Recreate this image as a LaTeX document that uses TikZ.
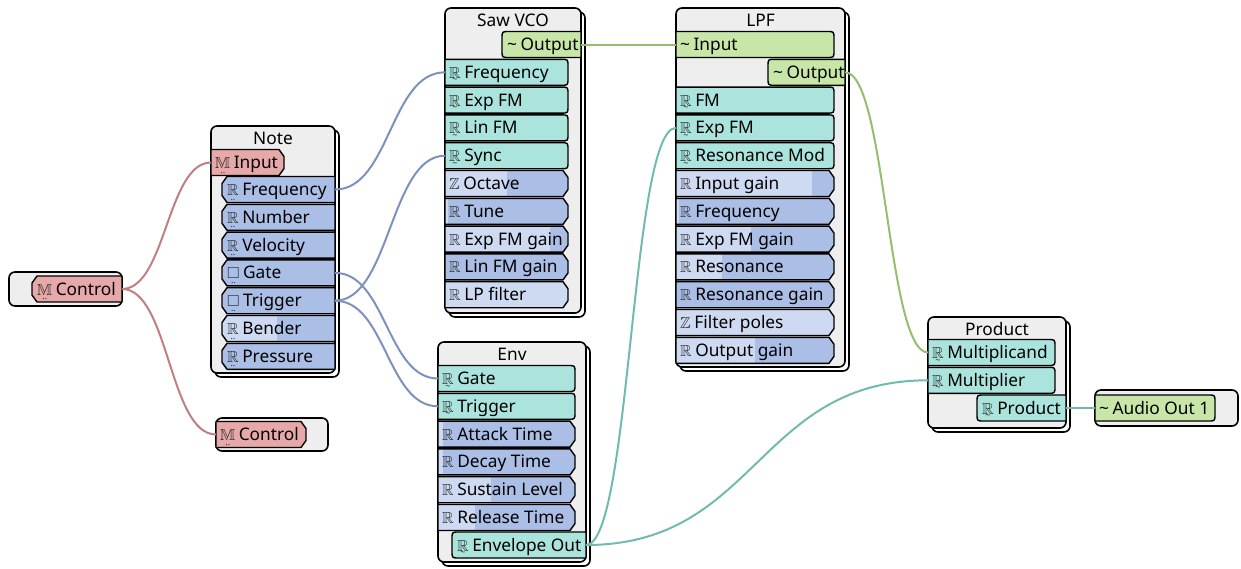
\documentclass[tikz,border=0pt]{standalone}
\usepackage{amssymb}
\usepackage{fontspec}
\setmainfont{Noto Sans}
\definecolor{cBg}{RGB}{238,238,238}
\definecolor{cTeal}{RGB}{170,228,221}
\definecolor{cGreen}{RGB}{200,230,168}
\definecolor{cBlueD}{RGB}{170,190,230}
\definecolor{cBlueL}{RGB}{206,218,242}
\definecolor{cRed}{RGB}{230,168,168}
\definecolor{cSym}{RGB}{40,40,40}
\definecolor{wRed}{RGB}{190,128,128}
\definecolor{wBlue}{RGB}{125,145,190}
\definecolor{wGreen}{RGB}{150,190,112}
\definecolor{wTeal}{RGB}{112,186,176}
% row shapes: xl, xr, yc
\def\rin#1#2#3{(#1,#3-13) -- (#2-7,#3-13) .. controls (#2,#3-13) .. (#2,#3-6) -- (#2,#3+6) .. controls (#2,#3+13) .. (#2-7,#3+13) -- (#1,#3+13) -- cycle}
\def\cin#1#2#3{(#1,#3-13) -- (#2-5,#3-13) -- (#2,#3-6) -- (#2,#3+6) -- (#2-5,#3+13) -- (#1,#3+13) -- cycle}
\def\rout#1#2#3{(#2,#3-13) -- (#1+7,#3-13) .. controls (#1,#3-13) .. (#1,#3-6) -- (#1,#3+6) .. controls (#1,#3+13) .. (#1+7,#3+13) -- (#2,#3+13) -- cycle}
\def\cout#1#2#3{(#2,#3-13) -- (#1+5,#3-13) -- (#1,#3-6) -- (#1,#3+6) -- (#1+5,#3+13) -- (#2,#3+13) -- cycle}
\newcommand\sy[2]{\textcolor{cSym}{\ooalign{\fontsize{16}{16}\selectfont$#1$\cr\hidewidth\raisebox{-4.5pt}{\fontsize{9}{9}\selectfont #2}\hidewidth\cr}}}
\newcommand\tl{\sy{\mathbb{R}}{\textasciitilde}\hspace{3.5pt}}
\newcommand\dr{\sy{\mathbb{R}}{..}\hspace{3.5pt}}
\newcommand\pr{\sy{\mathbb{R}}{}\hspace{3.5pt}}
\newcommand\pz{\sy{\mathbb{Z}}{}\hspace{3.5pt}}
\newcommand\dm{\sy{\mathbb{M}}{..}\hspace{3.5pt}}
\newcommand\ds{\sy{\square}{..}\hspace{3.5pt}}
\newcommand\gt{\textasciitilde\hspace{3.5pt}}
% rows: name, shape, xl, xr, yc, fill, split, text
\newcommand\inrow[8]{%
  \begin{scope}
    \clip #2{#3}{#4}{#5};
    \fill[#6] (#3,#5-14) rectangle (#4,#5+14);
    \fill[cBlueL] (#3,#5-14) rectangle (#7,#5+14);
  \end{scope}
  \draw[rowline] #2{#3}{#4}{#5};
  \node[lbl] (#1) at (#3+4,#5+6) {#8};
  \coordinate (#1p) at (#3,#5);
}
\newcommand\outrow[8]{%
  \begin{scope}
    \clip #2{#3}{#4}{#5};
    \fill[#6] (#3,#5-14) rectangle (#4,#5+14);
    \fill[cBlueL] (#3,#5-14) rectangle (#7,#5+14);
  \end{scope}
  \draw[rowline] #2{#3}{#4}{#5};
  \node[lbl] (#1) at (#3+5,#5+6) {#8};
  \coordinate (#1p) at (#4,#5);
}
% module: name, xl, yt, xr, yb, title
\newcommand\module[6]{%
  \draw[shadowbox] (#2+4,#3+4) rectangle (#4+4,#5+4);
  \draw[modbox] (#2,#3) rectangle (#4,#5);
  \node[ttl] (#1) at ({(#2+#4)/2},#3+18) {#6};
}
\begin{document}
\begin{tikzpicture}[x=1pt,y=-1pt,
  modbox/.style={draw=black, fill=cBg, line width=1.6pt, rounded corners=6pt},
  shadowbox/.style={draw=black, fill=white, line width=1.6pt, rounded corners=6pt},
  rowline/.style={draw=black, line width=1.4pt, line join=round},
  lbl/.style={anchor=base west, inner sep=0pt, font=\fontsize{17.3}{20}\selectfont},
  ttl/.style={anchor=base, inner sep=0pt, font=\fontsize{17.3}{20}\selectfont},
  wire/.style={line width=2pt}]
\useasboundingbox (0,0) rectangle (1241,568);

% Control (left)
\draw[modbox] (9,272) rectangle (122,306);
\outrow{ctlL}{\cout}{32}{122}{289}{cRed}{32}{\dm Control}

% Control (bottom)
\draw[modbox] (216,418) rectangle (328,451);
\inrow{ctlB}{\cin}{216}{306}{434.5}{cRed}{216}{\dm Control}

% Note
\module{note}{211}{126}{335}{373}{Note}
\inrow{noteIn}{\cin}{211}{284}{162.5}{cRed}{211}{\dm Input}
\outrow{noteFreq}{\cout}{222}{335}{189.5}{cBlueD}{222}{\dr Frequency}
\outrow{noteNum}{\cout}{222}{335}{217.3}{cBlueD}{222}{\dr Number}
\outrow{noteVel}{\cout}{222}{335}{245.1}{cBlueD}{222}{\dr Velocity}
\outrow{noteGate}{\cout}{222}{335}{272.9}{cBlueD}{222}{\ds Gate}
\outrow{noteTrig}{\cout}{222}{335}{300.7}{cBlueD}{222}{\ds Trigger}
\outrow{noteBend}{\cout}{222}{335}{328.5}{cBlueD}{277}{\dr Bender}
\outrow{notePres}{\cout}{222}{335}{356.3}{cBlueD}{222}{\dr Pressure}

% Saw VCO
\module{vco}{445}{8}{581}{313}{Saw VCO}
\outrow{vcoOut}{\rout}{502}{581}{44.5}{cGreen}{502}{\gt Output}
\inrow{vcoFreq}{\rin}{445}{568}{72.3}{cTeal}{445}{\tl Frequency}
\inrow{vcoExp}{\rin}{445}{568}{100.1}{cTeal}{445}{\tl Exp FM}
\inrow{vcoLin}{\rin}{445}{568}{127.9}{cTeal}{445}{\tl Lin FM}
\inrow{vcoSync}{\rin}{445}{568}{155.7}{cTeal}{445}{\tl Sync}
\inrow{vcoOct}{\cin}{445}{568}{183.5}{cBlueD}{507}{\pz Octave}
\inrow{vcoTune}{\cin}{445}{568}{211.3}{cBlueD}{448}{\pr Tune}
\inrow{vcoExpG}{\cin}{445}{568}{239.1}{cBlueD}{550}{\pr Exp FM gain}
\inrow{vcoLinG}{\cin}{445}{568}{266.9}{cBlueD}{445}{\pr Lin FM gain}
\inrow{vcoLP}{\cin}{445}{568}{294.7}{cBlueD}{568}{\pr LP filter}

% Env
\module{env}{438}{342}{586}{562}{Env}
\inrow{envGate}{\rin}{438}{575}{378.5}{cTeal}{438}{\tl Gate}
\inrow{envTrig}{\rin}{438}{575}{406.3}{cTeal}{438}{\tl Trigger}
\inrow{envAtt}{\cin}{438}{575}{434.1}{cBlueD}{443}{\pr Attack Time}
\inrow{envDec}{\cin}{438}{575}{461.9}{cBlueD}{443}{\pr Decay Time}
\inrow{envSus}{\cin}{438}{575}{489.7}{cBlueD}{491}{\pr Sustain Level}
\inrow{envRel}{\cin}{438}{575}{517.5}{cBlueD}{475}{\pr Release Time}
\outrow{envOut}{\rout}{452}{586}{545}{cTeal}{452}{\tl Envelope Out}

% LPF
\module{lpf}{676}{8}{845}{367}{LPF}
\inrow{lpfIn}{\rin}{676}{834}{44.5}{cGreen}{676}{\gt Input}
\outrow{lpfOut}{\rout}{768}{845}{72.3}{cGreen}{768}{\gt Output}
\inrow{lpfFM}{\rin}{676}{834}{100.1}{cTeal}{676}{\tl FM}
\inrow{lpfExp}{\rin}{676}{834}{127.9}{cTeal}{676}{\tl Exp FM}
\inrow{lpfResM}{\rin}{676}{834}{155.7}{cTeal}{676}{\tl Resonance Mod}
\inrow{lpfInG}{\cin}{676}{834}{183.5}{cBlueD}{812}{\pr Input gain}
\inrow{lpfFreq}{\cin}{676}{834}{211.3}{cBlueD}{679}{\pr Frequency}
\inrow{lpfExpG}{\cin}{676}{834}{239.1}{cBlueD}{751}{\pr Exp FM gain}
\inrow{lpfRes}{\cin}{676}{834}{266.9}{cBlueD}{722}{\pr Resonance}
\inrow{lpfResG}{\cin}{676}{834}{294.7}{cBlueD}{676}{\pr Resonance gain}
\inrow{lpfPoles}{\cin}{676}{834}{322.5}{cBlueD}{834}{\pz Filter poles}
\inrow{lpfOutG}{\cin}{676}{834}{350.3}{cBlueD}{755}{\pr Output gain}

% Product
\module{prod}{928}{317}{1066}{428}{Product}
\inrow{prodA}{\rin}{928}{1055}{352.5}{cTeal}{928}{\tl Multiplicand}
\inrow{prodB}{\rin}{928}{1055}{380.3}{cTeal}{928}{\tl Multiplier}
\outrow{prodOut}{\rout}{977}{1066}{408}{cTeal}{977}{\tl Product}

% Audio Out 1
\draw[modbox] (1095,390) rectangle (1238,426);
\inrow{audio}{\rin}{1095}{1215}{408}{cGreen}{1095}{\gt Audio Out 1}

% wires
\draw[wire, wRed] (ctlLp) .. controls +(44,0) and +(-44,0) .. (noteInp);
\draw[wire, wRed] (ctlLp) .. controls +(47,0) and +(-47,0) .. (ctlBp);
\draw[wire, wBlue] (noteFreqp) .. controls +(55,0) and +(-55,0) .. (vcoFreqp);
\draw[wire, wBlue] (noteTrigp) .. controls +(55,0) and +(-55,0) .. (vcoSyncp);
\draw[wire, wBlue] (noteGatep) .. controls +(51,0) and +(-51,0) .. (envGatep);
\draw[wire, wBlue] (noteTrigp) .. controls +(51,0) and +(-51,0) .. (envTrigp);
\draw[wire, wGreen] (vcoOutp) -- (lpfInp);
\draw[wire, wGreen] (lpfOutp) .. controls +(41,0) and +(-41,0) .. (prodAp);
\draw[wire, wTeal] (envOutp) .. controls +(45,0) and +(-45,0) .. (lpfExpp);
\draw[wire, wTeal] (envOutp) .. controls +(171,0) and +(-171,0) .. (prodBp);
\draw[wire, wTeal] (prodOutp) -- (audiop);
\end{tikzpicture}
\end{document}
